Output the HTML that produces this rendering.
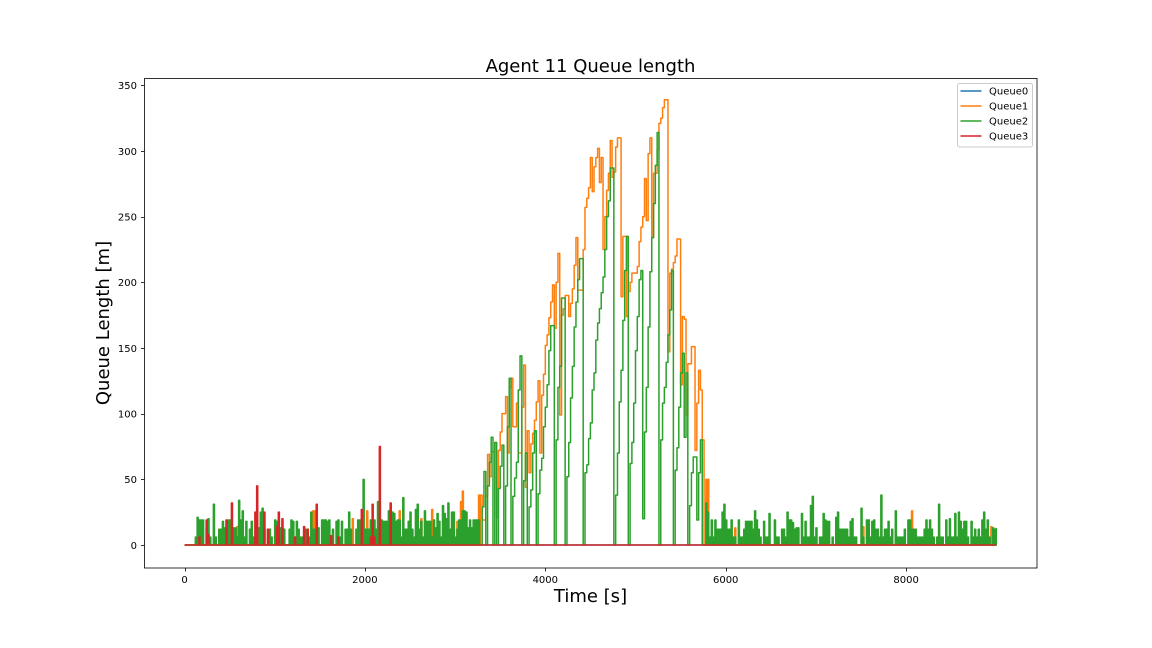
<!DOCTYPE html>
<html lang="en">
<head>
<meta charset="utf-8">
<title>Agent 11 Queue length</title>
<style>
html,body{margin:0;padding:0;background:#fff;width:1152px;height:648px;overflow:hidden}
svg{display:block;font-family:"DejaVu Sans","Liberation Sans",sans-serif}
</style>
</head>
<body>
<svg id="chart" xmlns="http://www.w3.org/2000/svg" width="1152" height="648" viewBox="0 0 1152 648">
  <rect x="0" y="0" width="1152" height="648" fill="#ffffff"/>
  <g id="series"></g>
  <rect x="144.5" y="78.5" width="892.5" height="489.5" fill="none" stroke="#000" stroke-width="0.8"/>
  <g id="x-axis"></g>
  <g id="y-axis"></g>
  <text x="590.5" y="72" font-size="18" text-anchor="middle" fill="#000">Agent 11 Queue length</text>
  <text x="590.5" y="602" font-size="18" text-anchor="middle" fill="#000">Time [s]</text>
  <text x="0" y="0" transform="translate(109,323) rotate(-90)" font-size="18" text-anchor="middle" fill="#000">Queue Length [m]</text>
  <g id="legend">
    <rect x="957.5" y="83.5" width="75" height="63.5" rx="2" ry="2" fill="#fff" fill-opacity="0.8" stroke="#cccccc" stroke-width="1"/>
  </g>
</svg>
<script>
const sampleInterval = 20;
const sampleCount = 451;
const rampStartSample = 164;
const rampEndSample = 287;
const xTickLabels = [0, 2000, 4000, 6000, 8000];
const yTickLabels = [0, 50, 100, 150, 200, 250, 300, 350];
const seriesNames = ["Queue0", "Queue1", "Queue2", "Queue3"];
const seriesColors = ["#1f77b4", "#ff7f0e", "#2ca02c", "#d62728"];

const queue0PulseTimes = [];
const queue0PulseValues = [];
const queue0Ramp = [];

const queue1PulseTimes = [380, 580, 800, 940, 1100, 1420, 1440, 1560, 1860, 2020, 2380, 2620, 2740, 3020, 3060, 3080, 3260, 5780, 5800, 5820, 6100, 6300, 7520, 8060, 8600, 8940];
const queue1PulseValues = [12, 14, 20, 12, 6, 26, 26, 5, 20, 26, 26, 20, 27, 18, 33, 41, 38, 50, 50, 6, 13, 12, 14, 26, 18, 14];
const queue1Ramp = [
38,19,19,37,69,52,
71,71,78,21,72,86,100,100,113,70,
120,127,90,90,108,70,70,105,137,44,
87,55,77,85,95,109,125,70,114,130,
152,160,173,185,198,165,200,222,99,175,
180,190,190,174,184,195,213,234,194,194,
194,225,257,264,272,295,269,288,295,302,
276,295,225,250,270,283,308,280,284,303,
310,310,189,235,235,174,193,200,207,207,
207,212,231,242,250,279,247,298,310,234,
283,283,301,321,325,333,339,339,147,207,
210,215,220,233,233,122,174,172,99,138,
138,151,151,72,108,133,118,80];

const queue2Samples = [
0,0,0,0,0,0,6,21,19,19,
19,0,12,20,6,0,31,6,0,12,
12,18,13,12,19,19,13,13,13,6,
34,19,26,6,18,0,12,18,6,6,
13,13,25,28,13,0,12,12,6,0,
19,18,12,13,13,12,0,0,12,19,
18,6,18,12,6,6,0,12,12,6,
25,12,12,6,13,0,19,19,19,18,
19,6,12,0,18,19,6,18,0,12,
12,25,12,0,0,12,19,19,6,50,
12,12,12,19,12,19,12,33,12,19,
18,18,18,26,27,25,24,18,19,19,
6,36,12,12,18,25,12,6,27,31,
12,18,6,26,18,18,18,6,19,13,
24,18,6,30,24,20,32,12,25,25,
6,12,19,19,26,26,25,13,19,13,
19,19,19,19,0,29,56,0,45,63,
82,0,78,0,43,60,76,0,45,90,
127,0,37,51,63,118,144,0,49,70,
0,29,42,70,87,0,39,57,66,90,
105,122,148,167,167,0,80,120,136,188,
188,0,52,78,112,136,166,185,202,218,
218,0,55,61,81,93,118,131,156,169,
180,192,204,225,250,262,287,287,0,38,
70,109,133,171,209,235,0,62,78,108,
148,174,202,209,20,86,120,166,208,234,
260,289,314,0,80,108,120,139,160,179,
209,0,57,74,105,131,146,82,131,0,
30,55,67,67,19,55,80,0,0,32,
25,6,19,6,19,12,12,12,25,31,
19,12,12,19,6,6,0,19,6,6,
12,18,18,18,18,12,26,19,12,6,
0,18,6,6,24,0,0,19,6,6,
0,12,12,6,25,19,19,17,12,13,
13,0,24,6,18,6,6,30,37,6,
13,0,6,6,24,19,18,18,0,6,
0,21,25,12,12,12,12,12,6,18,
20,6,6,0,0,28,6,0,19,19,
6,18,19,12,12,6,38,6,12,12,
18,6,12,0,26,6,6,6,6,12,
0,19,19,12,12,12,6,6,6,6,
12,19,12,19,12,6,0,6,31,6,
6,0,19,6,20,6,6,24,6,25,
18,12,18,18,6,0,18,6,12,6,
12,6,19,25,12,19,6,0,13,12,13];

const queue3PulseTimes = [160, 240, 260, 460, 520, 780, 800, 880, 920, 1020, 1040, 1080, 1220, 1320, 1360, 1460, 1620, 1700, 1960, 2060, 2080, 2100, 2160, 2280];
const queue3PulseValues = [6, 19, 8, 19, 32, 25, 45, 25, 12, 14, 25, 20, 6, 14, 12, 31, 7, 6, 27, 6, 31, 6, 75, 32];
const queue3Ramp = [];

const SVG_NS = "http://www.w3.org/2000/svg";
const pulseWidthSamples = 0.6;

function xScale(t) {
  return 184.5 + t * 0.0902;
}
function yScale(v) {
  return 545 - v * 1.3135;
}
function make(tag, attrs, parent) {
  const el = document.createElementNS(SVG_NS, tag);
  for (const k in attrs) {
    el.setAttribute(k, attrs[k]);
  }
  parent.appendChild(el);
  return el;
}
function fromEvents(times, values, ramp) {
  const out = [];
  for (let i = 0; i < sampleCount; i++) {
    out.push(0);
  }
  times.forEach(function (t, k) {
    out[Math.round(t / sampleInterval)] = values[k];
  });
  ramp.forEach(function (v, k) {
    out[rampStartSample + k] = v;
  });
  return out;
}
function isRamp(i) {
  return i >= rampStartSample && i <= rampEndSample;
}

const allSeries = [
  fromEvents(queue0PulseTimes, queue0PulseValues, queue0Ramp),
  fromEvents(queue1PulseTimes, queue1PulseValues, queue1Ramp),
  queue2Samples,
  fromEvents(queue3PulseTimes, queue3PulseValues, queue3Ramp)
];

const seriesGroup = document.getElementById("series");
allSeries.forEach(function (values, s) {
  const base = yScale(0).toFixed(2);
  let d = "M" + xScale(0).toFixed(2) + " " + base;
  for (let i = 0; i < values.length; i++) {
    const x = xScale(i * sampleInterval);
    d += "H" + x.toFixed(2) + "V" + yScale(values[i]).toFixed(2);
    if (!isRamp(i) && i < values.length - 1) {
      const end = xScale((i + pulseWidthSamples) * sampleInterval);
      d += "H" + end.toFixed(2) + "V" + base;
    }
  }
  const path = make("path", {
    d: d,
    fill: "none",
    stroke: seriesColors[s],
    "stroke-width": 1.5,
    "stroke-linejoin": "round",
    "stroke-linecap": "butt"
  }, seriesGroup);
  
  
});

const xAxisGroup = document.getElementById("x-axis");
xTickLabels.forEach(function (t) {
  const x = Math.round(xScale(t)) + 0.5;
  const tick = make("line", { x1: x, x2: x, y1: 568, y2: 571.5, stroke: "#000", "stroke-width": 0.8 }, xAxisGroup);
  
  
  const label = make("text", { x: xScale(t), y: 583, "font-size": 10, "text-anchor": "middle", fill: "#000" }, xAxisGroup);
  
  
  label.textContent = t;
});

const yAxisGroup = document.getElementById("y-axis");
yTickLabels.forEach(function (v) {
  const y = Math.round(yScale(v)) + 0.5;
  const tick = make("line", { x1: 141, x2: 144.5, y1: y, y2: y, stroke: "#000", "stroke-width": 0.8 }, yAxisGroup);
  
  
  const label = make("text", { x: 137, y: yScale(v) + 3.8, "font-size": 10, "text-anchor": "end", fill: "#000" }, yAxisGroup);
  
  
  label.textContent = v;
});

const legendGroup = document.getElementById("legend");
seriesNames.forEach(function (name, s) {
  const y = 91 + s * 15;
  const handle = make("line", { x1: 960.5, x2: 981.5, y1: y, y2: y, stroke: seriesColors[s], "stroke-width": 1.5 }, legendGroup);
  
  
  const label = make("text", { x: 989, y: y + 3.6, "font-size": 10, fill: "#000" }, legendGroup);
  
  
  label.textContent = name;
});
</script>
</body>
</html>
